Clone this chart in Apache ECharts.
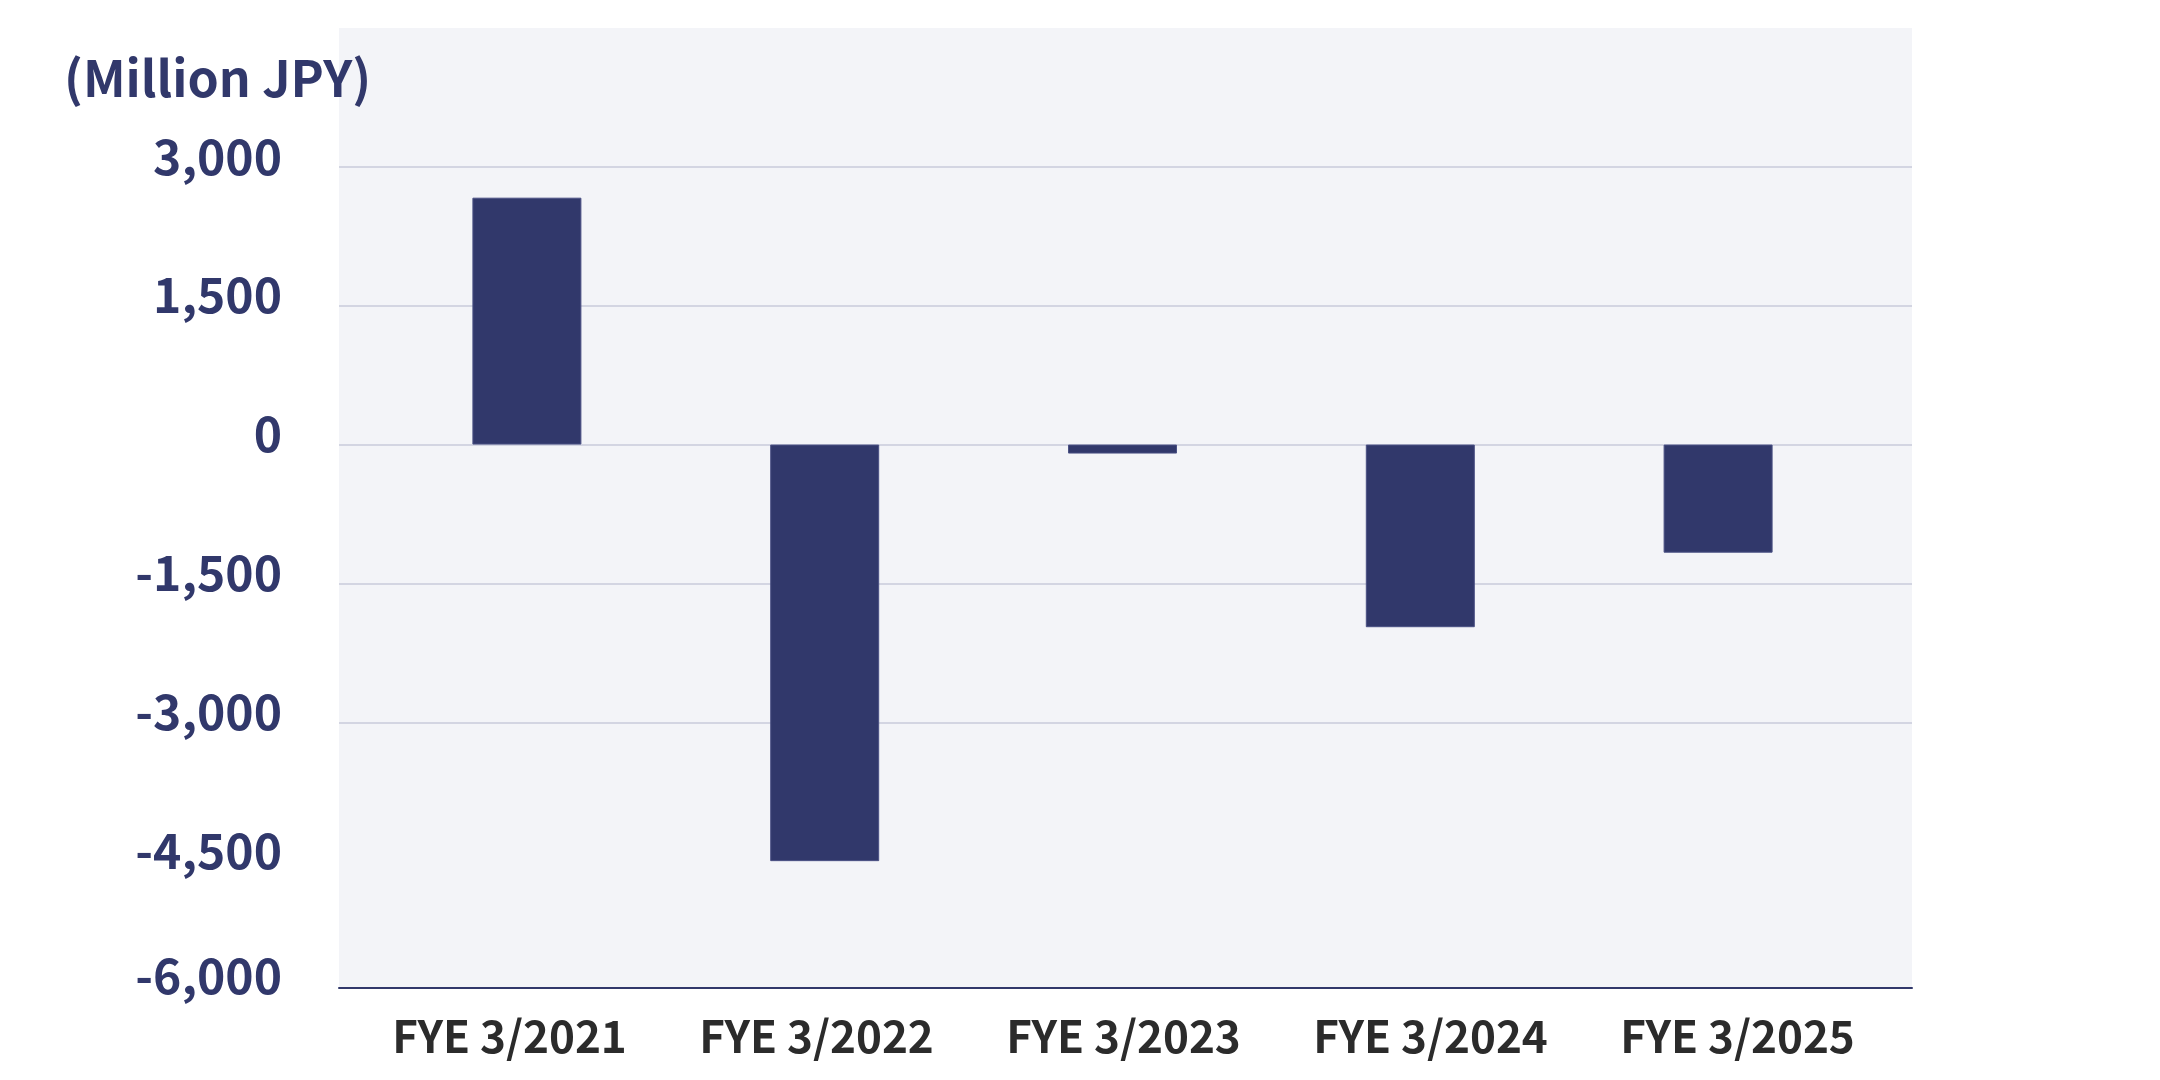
<!DOCTYPE html>
<html>
<head>
<meta charset="utf-8">
<script src="https://cdn.jsdelivr.net/npm/echarts@6/dist/echarts.min.js"></script>
<style>
html,body{margin:0;padding:0;background:#fff;}
#c{width:2160px;height:1080px;}
</style>
</head>
<body>
<div id="c"></div>
<script>
const categories = ['FYE 3/2021', 'FYE 3/2022', 'FYE 3/2023', 'FYE 3/2024', 'FYE 3/2025'];
const values = [2667, -4500, -97, -1973, -1168];
const unitLabel = '(Million JPY)';
const yMin = -6000, yMax = 4500, yStep = 1500;

const FONT = '"Noto Sans CJK JP", "Noto Sans", sans-serif';
const NAVY = '#31386b';
const GRIDC = '#c9cbdb';

function fmt(v){
  const s = Math.abs(v).toString().replace(/\B(?=(\d{3})+(?!\d))/g, ',');
  return (v < 0 ? '-' : '') + s;
}

const chart = echarts.init(document.getElementById('c'), null, {renderer:'canvas'});
const splitColors = [];
for (let v = yMin; v <= yMax; v += yStep) {
  splitColors.push(v === yMin || v === yMax ? 'rgba(0,0,0,0)' : GRIDC);
}

chart.setOption({
  backgroundColor: '#ffffff',
  animation: false,
  title: {
    text: unitLabel,
    left: 59, top: 48,
    textStyle: {fontFamily: FONT, fontWeight: 'bold', fontSize: 50, color: NAVY}
  },
  grid: [
    {left: 339, right: 248, top: 28, bottom: 92, show: true, backgroundColor: '#f3f4f8', borderWidth: 0, outerBoundsMode: 'none', containLabel: false},
    {left: 339, right: 248, top: 28, bottom: 80, outerBoundsMode: 'none', containLabel: false},
    {left: 378, right: 293, top: 28, bottom: 80, outerBoundsMode: 'none', containLabel: false},
    {left: 356, right: 269, top: 28, bottom: 92, outerBoundsMode: 'none', containLabel: false}
  ],
  xAxis: [
    {gridIndex: 0, type: 'category', data: categories, axisLine: {show: true, onZero: false, lineStyle: {color: NAVY, width: 2}}, axisTick: {show: false}, axisLabel: {show: false}},
    {gridIndex: 1, type: 'category', data: categories, show: false},
    {gridIndex: 2, type: 'category', data: categories, show: false},
    {gridIndex: 3, type: 'category', data: categories, axisLine: {show: false, onZero: false}, axisTick: {show: false},
      axisLabel: {show: true, margin: 26, color: '#2b2b2b', fontFamily: FONT, fontWeight: 'bold', fontSize: 44}}
  ],
  yAxis: [
    {gridIndex: 0, type: 'value', min: yMin, max: yMax, interval: yStep, show: false},
    {gridIndex: 1, type: 'value', min: yMin, max: yMax, interval: yStep,
      axisLine: {show: false}, axisTick: {show: false},
      splitLine: {show: true, showMinLine: false, showMaxLine: false, lineStyle: {color: splitColors, width: 1.5}},
      axisLabel: {
        show: true, margin: 57, showMaxLabel: false,
        formatter: function(v){ return v === yMax ? '' : ((v === yMin ? '{b|' : '{a|') + fmt(v) + '}'); },
        rich: {
          a: {fontFamily: FONT, fontWeight: 'bold', fontSize: 48, color: NAVY, padding: [0,0,21,0]},
          b: {fontFamily: FONT, fontWeight: 'bold', fontSize: 48, color: NAVY, padding: [0,0,48,0]}
        }
      }
    },
    {gridIndex: 2, type: 'value', min: yMin, max: yMax, interval: yStep, show: false, splitLine: {show: false}},
    {gridIndex: 3, type: 'value', min: yMin, max: yMax, interval: yStep, show: false, splitLine: {show: false}}
  ],
  series: [{
    type: 'bar',
    xAxisIndex: 2, yAxisIndex: 2,
    data: values,
    barWidth: 109,
    itemStyle: {color: NAVY, borderColor: '#4a5184', borderWidth: 1}
  }]
});
</script>
</body>
</html>
